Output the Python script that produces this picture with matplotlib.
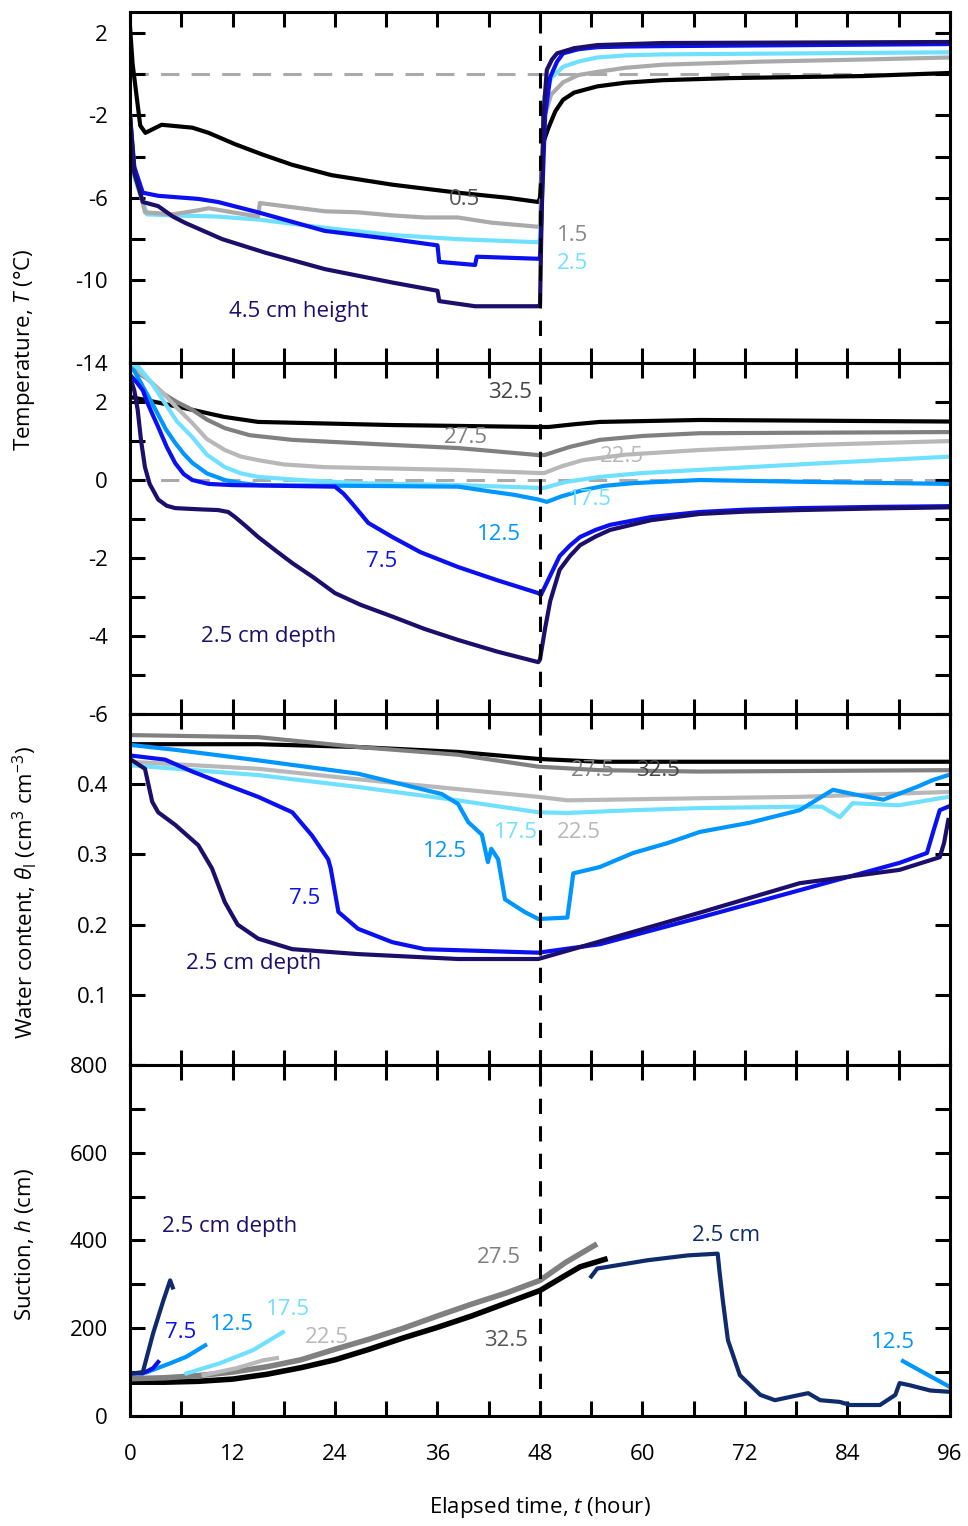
import numpy as np
import matplotlib.pyplot as plt
from matplotlib.ticker import MultipleLocator, FixedLocator

plt.rcParams['font.family'] = ['Open Sans', 'DejaVu Sans']
plt.rcParams['mathtext.fontset'] = 'custom'
plt.rcParams['mathtext.rm'] = 'Open Sans'
plt.rcParams['mathtext.it'] = 'Open Sans:italic'
plt.rcParams['axes.unicode_minus'] = False

# colours
NAVY = '#1b0f6b'
BLUE = '#0a10f0'
MIDBLUE = '#0096ff'
LIGHTBLUE = '#70e0ff'
LIGHTGRAY = '#b8b8b8'
GRAY = '#808080'
DARKNAVY = '#0f2b6b'

# ---- panel 1: temperature above the soil (height, cm)
t_h05 = [0, 0.3, 1.2, 1.8, 3.7, 7.3, 9.2, 12.3, 15.5, 19, 23.6, 30.7, 38.4, 44.3, 47.8, 48.0, 48.4, 49.0, 49.8, 50.7, 52, 54.7, 58, 62.4, 70.2, 85.8, 96]
T_h05 = [2.3, 0.5, -2.5, -2.85, -2.46, -2.6, -2.85, -3.4, -3.9, -4.4, -4.9, -5.36, -5.75, -6.0, -6.2, -6.0, -3.3, -2.6, -1.8, -1.25, -0.9, -0.6, -0.42, -0.3, -0.2, -0.1, 0.05]
t_h15 = [0, 0.5, 1.75, 5, 8, 9.2, 12, 15, 15.2, 18, 22.8, 26.7, 30.7, 34.5, 38.4, 42.3, 47.8, 48.0, 48.5, 49.3, 50.7, 52.5, 54.7, 58, 62.4, 74, 85.8, 96]
T_h15 = [-2.0, -4.5, -6.7, -6.8, -6.6, -6.5, -6.7, -6.9, -6.25, -6.4, -6.65, -6.7, -6.85, -6.95, -6.95, -7.2, -7.4, -7.3, -2.1, -1.0, -0.4, -0.05, 0.1, 0.3, 0.45, 0.6, 0.7, 0.8]
t_h25 = [0, 0.5, 2, 5, 10, 15, 22.8, 30.7, 38.4, 47.8, 48.0, 48.5, 49.3, 50.7, 52.5, 54.7, 58, 62.4, 96]
T_h25 = [-2.0, -5.0, -6.8, -6.85, -6.9, -7.05, -7.45, -7.8, -8.0, -8.15, -8.0, -1.1, -0.2, 0.35, 0.6, 0.8, 0.9, 0.95, 1.05]
t_h35 = [0, 0.5, 1.5, 3.3, 8, 10.3, 15, 22.8, 30.7, 36, 36.2, 40.4, 40.6, 47.8, 48.0, 48.6, 49.2, 50.0, 50.7, 52.5, 54.7, 58, 62.4, 96]
T_h35 = [-2.0, -4.5, -5.75, -5.9, -6.05, -6.2, -6.7, -7.6, -8.0, -8.3, -9.1, -9.25, -8.85, -8.95, -8.9, -2.0, -0.15, 0.6, 1.0, 1.2, 1.3, 1.33, 1.35, 1.45]
t_h45 = [0, 0.5, 1.5, 3.3, 5, 6.4, 10.8, 15.8, 22.8, 30.7, 36, 36.2, 40.4, 47.8, 48.0, 48.4, 48.8, 49.4, 50, 52, 54.7, 62.4, 96]
T_h45 = [-2.0, -4.8, -6.2, -6.4, -6.9, -7.2, -8.0, -8.65, -9.45, -10.1, -10.5, -11.0, -11.25, -11.25, -11.2, -2.0, 0.2, 0.7, 1.0, 1.25, 1.4, 1.5, 1.55]

# ---- panel 2: soil temperature (depth, cm)
t_d25 = [0, 0.2, 0.5, 0.9, 1.3, 1.75, 2.3, 3.3, 4.3, 5.3, 8, 10.3, 11.5, 12.3, 13.5, 15, 17, 19, 21.5, 24, 27, 30.7, 34.5, 38.4, 43, 47.8, 48.0, 48.6, 49.2, 50.3, 51.5, 52.7, 54.5, 56.2, 61, 66.7, 72, 78.4, 87, 96]
T_d25 = [2.3, 2.5, 2.3, 1.8, 1.0, 0.33, -0.1, -0.5, -0.66, -0.72, -0.75, -0.77, -0.82, -0.95, -1.17, -1.46, -1.8, -2.13, -2.5, -2.9, -3.2, -3.5, -3.82, -4.1, -4.4, -4.67, -4.6, -3.8, -3.1, -2.3, -1.95, -1.67, -1.45, -1.28, -1.03, -0.87, -0.81, -0.77, -0.73, -0.7]
t_d75 = [0, 0.8, 1.5, 2.0, 2.6, 3.3, 4.3, 5.3, 6.3, 7.3, 9.2, 12, 24, 25, 26, 27.9, 30.7, 34, 38.4, 43, 47.8, 48.1, 49.2, 50.3, 51.5, 52.7, 54.5, 56.2, 61, 66.7, 72, 78.4, 87, 96]
T_d75 = [2.7, 2.5, 2.3, 2.0, 1.7, 1.36, 0.85, 0.43, 0.15, 0.0, -0.1, -0.13, -0.17, -0.35, -0.6, -1.1, -1.46, -1.85, -2.23, -2.57, -2.9, -2.95, -2.45, -1.95, -1.68, -1.46, -1.28, -1.15, -0.95, -0.82, -0.76, -0.72, -0.69, -0.67]
t_d125 = [0, 0.5, 1.5, 3, 4.2, 5.3, 6.3, 7.3, 9, 11.1, 13, 15, 38.4, 42.4, 45, 47.8, 48.8, 50.5, 53, 55.5, 58.9, 66.7, 80, 96]
T_d125 = [2.9, 2.8, 2.4, 1.8, 1.3, 0.95, 0.67, 0.44, 0.17, 0.0, -0.08, -0.13, -0.17, -0.3, -0.38, -0.5, -0.56, -0.42, -0.26, -0.15, -0.08, 0.0, -0.05, -0.1]
t_d175 = [0, 1, 2.5, 4, 5.5, 7.3, 9, 11.1, 13, 15, 20, 26.7, 38.4, 47.8, 48.5, 51, 55, 60, 66.7, 80, 96]
T_d175 = [3.0, 2.9, 2.5, 2.0, 1.5, 1.1, 0.65, 0.33, 0.17, 0.08, 0.0, -0.08, -0.13, -0.2, -0.2, -0.05, 0.08, 0.18, 0.26, 0.42, 0.6]
t_d225 = [0, 1, 2.5, 4, 5.5, 7.3, 9, 11.1, 13, 15, 18, 22.8, 38.4, 47.8, 48.5, 50.5, 53, 58, 66.7, 80, 96]
T_d225 = [2.9, 2.8, 2.5, 2.2, 1.85, 1.46, 1.05, 0.77, 0.6, 0.51, 0.4, 0.33, 0.26, 0.18, 0.18, 0.35, 0.51, 0.65, 0.77, 0.9, 1.0]
t_d275 = [0, 2, 4, 5.5, 7.3, 9, 11.1, 14, 19, 30.7, 38.4, 47.8, 48.5, 51.5, 55, 60, 66.7, 96]
T_d275 = [2.87, 2.6, 2.2, 2.0, 1.8, 1.55, 1.33, 1.15, 1.03, 0.9, 0.82, 0.64, 0.64, 0.85, 1.03, 1.13, 1.2, 1.23]
t_d325 = [0, 3, 7.3, 11, 15, 30.7, 47.8, 49, 52, 55, 66.7, 96]
T_d325 = [2.13, 2.0, 1.8, 1.62, 1.49, 1.41, 1.36, 1.36, 1.43, 1.49, 1.54, 1.5]

# ---- panel 3: liquid water content
t_w25 = [0, 1.75, 2.6, 3.3, 5.3, 8, 9.6, 11.1, 12.6, 15, 19, 26.7, 38.4, 47.8, 55, 66.7, 78.4, 90.1, 94.8, 95.3, 95.8]
w_25 = [0.436, 0.422, 0.375, 0.36, 0.342, 0.313, 0.28, 0.232, 0.2, 0.18, 0.165, 0.158, 0.151, 0.151, 0.176, 0.217, 0.259, 0.278, 0.296, 0.316, 0.349]
t_w75 = [0, 4.1, 7.3, 11.1, 15, 19, 21.3, 23.2, 23.5, 24.4, 26.7, 30.7, 34.5, 47.8, 55, 66.7, 78.4, 90.1, 93.3, 94.1, 94.8, 95.8]
w_75 = [0.441, 0.435, 0.418, 0.4, 0.382, 0.36, 0.327, 0.293, 0.28, 0.218, 0.194, 0.175, 0.165, 0.16, 0.172, 0.21, 0.249, 0.288, 0.302, 0.335, 0.363, 0.368]
t_w125 = [0, 5.3, 15, 26.7, 36.5, 38.4, 39.6, 41.2, 41.9, 42.3, 43.1, 43.9, 46.2, 47.8, 51.2, 51.9, 55, 58.9, 62.9, 66.7, 72.5, 78.4, 82.3, 85, 88.2, 92.1, 94, 95.8]
w_125 = [0.456, 0.449, 0.434, 0.415, 0.386, 0.372, 0.346, 0.328, 0.289, 0.308, 0.293, 0.236, 0.218, 0.208, 0.21, 0.273, 0.282, 0.302, 0.316, 0.332, 0.345, 0.363, 0.392, 0.385, 0.378, 0.396, 0.406, 0.413]
t_w175 = [0, 15, 26.7, 38.4, 47.8, 51.2, 58.9, 66.7, 78.4, 81, 83.1, 84.6, 90, 95.8]
w_175 = [0.427, 0.413, 0.396, 0.377, 0.36, 0.359, 0.363, 0.366, 0.368, 0.368, 0.353, 0.373, 0.37, 0.382]
t_w225 = [0, 15, 26.7, 38.4, 47.8, 51.2, 66.7, 78.4, 95.8]
w_225 = [0.432, 0.422, 0.407, 0.393, 0.382, 0.377, 0.38, 0.382, 0.389]
t_w275 = [0, 15, 26.7, 38.4, 47.8, 55, 66.7, 95.8]
w_275 = [0.47, 0.467, 0.453, 0.442, 0.425, 0.42, 0.418, 0.42]
t_w325 = [0, 15, 26.7, 38.4, 47.8, 55, 66.7, 95.8]
w_325 = [0.457, 0.457, 0.453, 0.446, 0.436, 0.432, 0.432, 0.432]

# ---- panel 4: suction
t_s25a = [0.4, 1.5, 2.7, 3.9, 4.7, 5.0]
h_25a = [97, 100, 188, 263, 309, 293]
t_s25b = [54, 54.7, 60.6, 65.3, 68.8, 69.0, 69.4, 70.0, 71.4, 73.8, 75.5, 78.4, 79.4, 80.8, 83.1, 84.3, 87.8, 89.6, 90.1, 91.3, 93.7, 96]
h_25b = [318, 336, 355, 366, 370, 332, 264, 173, 93, 48, 36, 48, 52, 36, 32, 25, 25, 48, 75, 70, 58, 55]
t_s75 = [0.5, 1.5, 2.7, 3.3]
h_75 = [97, 97, 109, 123]
t_s125a = [2, 4.7, 6.6, 8.8]
h_125a = [100, 120, 135, 161]
t_s125b = [90.5, 93, 96]
h_125b = [125, 98, 66]
t_s175 = [6.6, 10.5, 14.4, 17.9]
h_175 = [97, 120, 150, 191]
t_s225 = [8.6, 12.5, 15.6, 17.2]
h_225 = [93, 109, 127, 132]
t_s275 = [0, 4, 8, 12, 16, 20, 24, 28, 32, 36, 40, 44, 48, 51, 54.4]
h_275 = [85, 87, 92, 100, 112, 128, 152, 175, 200, 228, 255, 280, 309, 350, 389]
t_s325 = [0, 4, 8, 12, 16, 20, 24, 28, 32, 36, 40, 44, 48, 50.5, 52.7, 55.6]
h_325 = [77, 77, 79, 84, 95, 110, 128, 152, 178, 202, 228, 257, 286, 315, 340, 357]

fig = plt.figure(figsize=(9.68, 15.26), dpi=100)
gs = fig.add_gridspec(4, 1, left=0.1343, right=0.9814, top=0.9921, bottom=0.0721, hspace=0)
axes = [fig.add_subplot(gs[i]) for i in range(4)]

LW = 3
FS = 16

ax = axes[0]
ax.axhline(0, color='#aaaaaa', lw=2.2, dashes=(6, 4), zorder=1)
ax.plot(t_h05, T_h05, color='black', lw=LW)
ax.plot(t_h25, T_h25, color=LIGHTBLUE, lw=LW)
ax.plot(t_h15, T_h15, color='#aaaaaa', lw=LW)
ax.plot(t_h35, T_h35, color=BLUE, lw=LW)
ax.plot(t_h45, T_h45, color=NAVY, lw=LW)
ax.set_ylim(-14, 3)
ax.yaxis.set_major_locator(FixedLocator([-14, -10, -6, -2, 2]))
ax.yaxis.set_minor_locator(MultipleLocator(2))
ax.text(39.2, -6.1, '0.5', color='#555555', fontsize=FS, ha='center', va='center')
ax.text(51.8, -7.8, '1.5', color='#888888', fontsize=FS, ha='center', va='center')
ax.text(51.8, -9.2, '2.5', color=LIGHTBLUE, fontsize=FS, ha='center', va='center')
ax.text(19.7, -11.5, '4.5 cm height', color=NAVY, fontsize=FS, ha='center', va='center')

ax = axes[1]
ax.axhline(0, color='#aaaaaa', lw=2.2, dashes=(6, 4), zorder=1)
ax.plot(t_d325, T_d325, color='black', lw=LW)
ax.plot(t_d275, T_d275, color=GRAY, lw=LW)
ax.plot(t_d225, T_d225, color=LIGHTGRAY, lw=LW)
ax.plot(t_d175, T_d175, color=LIGHTBLUE, lw=LW)
ax.plot(t_d125, T_d125, color=MIDBLUE, lw=LW)
ax.plot(t_d75, T_d75, color=BLUE, lw=LW)
ax.plot(t_d25, T_d25, color=NAVY, lw=LW)
ax.set_ylim(-6, 3)
ax.yaxis.set_major_locator(FixedLocator([-6, -4, -2, 0, 2]))
ax.yaxis.set_minor_locator(MultipleLocator(1))
ax.text(44.5, 2.25, '32.5', color='#444444', fontsize=FS, ha='center', va='center')
ax.text(39.3, 1.1, '27.5', color=GRAY, fontsize=FS, ha='center', va='center')
ax.text(57.6, 0.6, '22.5', color=LIGHTGRAY, fontsize=FS, ha='center', va='center')
ax.text(53.9, -0.5, '17.5', color=LIGHTBLUE, fontsize=FS, ha='center', va='center')
ax.text(43.2, -1.4, '12.5', color=MIDBLUE, fontsize=FS, ha='center', va='center')
ax.text(29.4, -2.1, '7.5', color=BLUE, fontsize=FS, ha='center', va='center')
ax.text(16.2, -4.0, '2.5 cm depth', color=NAVY, fontsize=FS, ha='center', va='center')

ax = axes[2]
ax.plot(t_w325, w_325, color='black', lw=LW)
ax.plot(t_w275, w_275, color=GRAY, lw=LW)
ax.plot(t_w225, w_225, color=LIGHTGRAY, lw=LW)
ax.plot(t_w175, w_175, color=LIGHTBLUE, lw=LW)
ax.plot(t_w125, w_125, color=MIDBLUE, lw=LW)
ax.plot(t_w75, w_75, color=BLUE, lw=LW)
ax.plot(t_w25, w_25, color=NAVY, lw=LW)
ax.set_ylim(0, 0.5)
ax.yaxis.set_major_locator(FixedLocator([0.1, 0.2, 0.3, 0.4]))
ax.yaxis.set_minor_locator(MultipleLocator(0.1))
ax.text(54.2, 0.419, '27.5', color=GRAY, fontsize=FS, ha='center', va='center')
ax.text(61.8, 0.419, '32.5', color='#444444', fontsize=FS, ha='center', va='center')
ax.text(45.2, 0.331, '17.5', color=LIGHTBLUE, fontsize=FS, ha='center', va='center')
ax.text(52.6, 0.331, '22.5', color=LIGHTGRAY, fontsize=FS, ha='center', va='center')
ax.text(36.9, 0.304, '12.5', color=MIDBLUE, fontsize=FS, ha='center', va='center')
ax.text(20.4, 0.237, '7.5', color=BLUE, fontsize=FS, ha='center', va='center')
ax.text(14.5, 0.144, '2.5 cm depth', color=NAVY, fontsize=FS, ha='center', va='center')

ax = axes[3]
ax.plot(t_s325, h_325, color='black', lw=4)
ax.plot(t_s275, h_275, color=GRAY, lw=4)
ax.plot(t_s225, h_225, color=LIGHTGRAY, lw=LW)
ax.plot(t_s175, h_175, color=LIGHTBLUE, lw=LW)
ax.plot(t_s125a, h_125a, color=MIDBLUE, lw=LW)
ax.plot(t_s125b, h_125b, color=MIDBLUE, lw=LW)
ax.plot(t_s75, h_75, color=BLUE, lw=LW)
ax.plot(t_s25a, h_25a, color=DARKNAVY, lw=LW)
ax.plot(t_s25b, h_25b, color=DARKNAVY, lw=LW)
ax.set_ylim(0, 800)
ax.yaxis.set_major_locator(FixedLocator([0, 200, 400, 600, 800]))
ax.yaxis.set_minor_locator(MultipleLocator(100))
ax.text(11.7, 432, '2.5 cm depth', color=NAVY, fontsize=FS, ha='center', va='center')
ax.text(5.9, 190, '7.5', color=BLUE, fontsize=FS, ha='center', va='center')
ax.text(11.9, 208, '12.5', color=MIDBLUE, fontsize=FS, ha='center', va='center')
ax.text(18.5, 243, '17.5', color=LIGHTBLUE, fontsize=FS, ha='center', va='center')
ax.text(23.1, 180, '22.5', color=LIGHTGRAY, fontsize=FS, ha='center', va='center')
ax.text(43.2, 361, '27.5', color=GRAY, fontsize=FS, ha='center', va='center')
ax.text(44.0, 173, '32.5', color='#555555', fontsize=FS, ha='center', va='center')
ax.text(69.8, 412, '2.5 cm', color=DARKNAVY, fontsize=FS, ha='center', va='center')
ax.text(89.3, 168, '12.5', color=MIDBLUE, fontsize=FS, ha='center', va='center')

for i, ax in enumerate(axes):
    ax.axvline(48, color='black', lw=2.2, dashes=(5, 4), zorder=5)
    ax.set_xlim(0, 96)
    ax.xaxis.set_major_locator(MultipleLocator(12))
    ax.xaxis.set_minor_locator(MultipleLocator(6))
    ax.tick_params(which='both', direction='in', top=True, right=True,
                   length=11, width=2.2, labelsize=FS)
    ax.tick_params(axis='y', pad=16)
    ax.tick_params(axis='x', pad=20)
    for sp in ax.spines.values():
        sp.set_linewidth(2.2)
    if i < 3:
        ax.tick_params(labelbottom=False)

fig.text(25 / 968, 1 - 350 / 1526, 'Temperature, $T$ (°C)', rotation=90,
         ha='center', va='center', fontsize=FS)
fig.text(25 / 968, 1 - 893 / 1526, r'Water content, $\theta_\mathrm{l}$ (cm$^3$ cm$^{-3}$)',
         rotation=90, ha='center', va='center', fontsize=FS)
fig.text(25 / 968, 1 - 1245 / 1526, 'Suction, $h$ (cm)', rotation=90,
         ha='center', va='center', fontsize=FS)
fig.text(540 / 968, 1 - 1508 / 1526, 'Elapsed time, $t$ (hour)',
         ha='center', va='center', fontsize=FS)

fig.savefig('out.png', dpi=100)
